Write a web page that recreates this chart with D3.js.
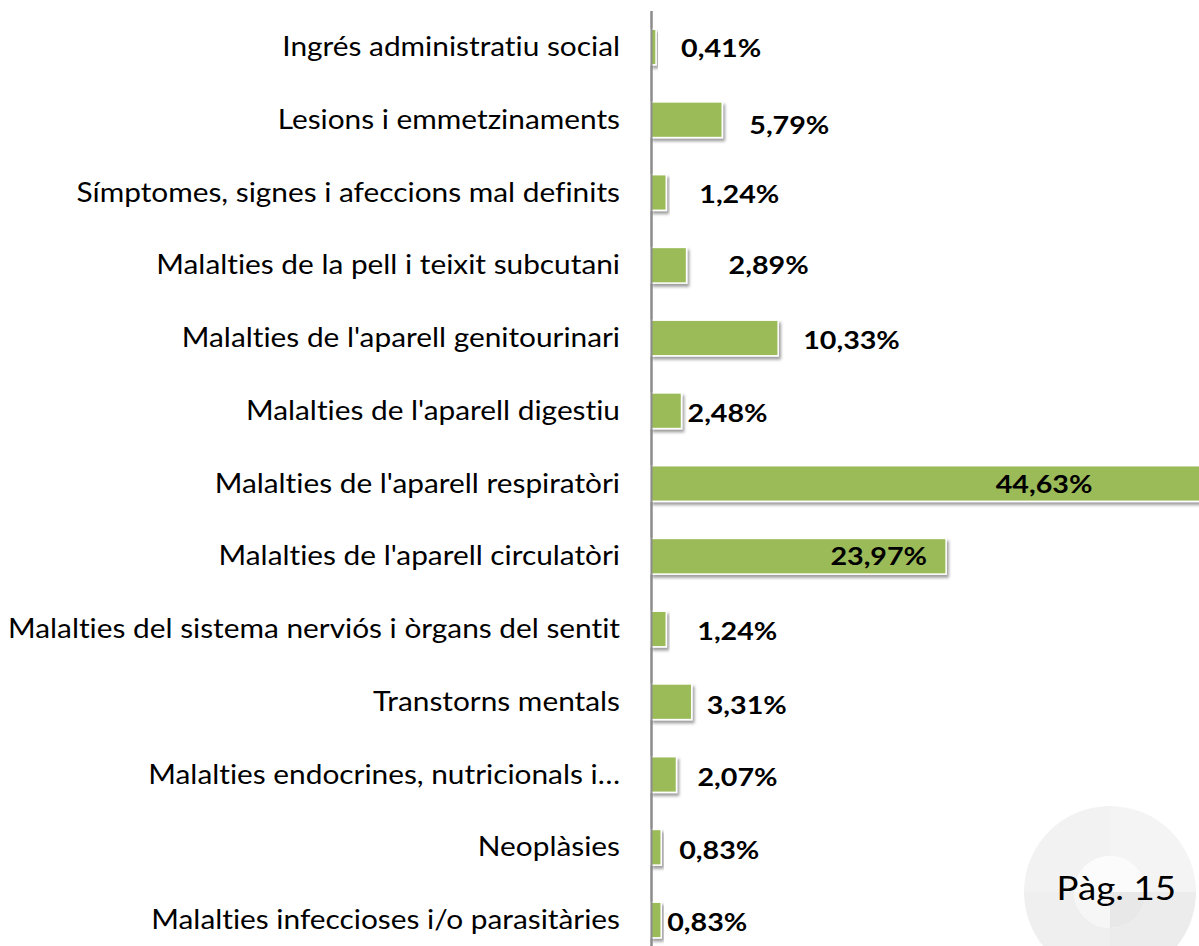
<!DOCTYPE html>
<html>
<head>
<meta charset="utf-8">
<script src="https://cdn.jsdelivr.net/npm/d3@7"></script>
<style>
  html, body { margin: 0; padding: 0; background: #ffffff; }
  svg { display: block; }
  text { font-variant-ligatures: none; }
</style>
</head>
<body>
<svg id="chart" width="1199" height="946"></svg>
<script>
// ==========
// DATA
// ==========

const categories = [
  "Ingrés administratiu social",
  "Lesions i emmetzinaments",
  "Símptomes, signes i afeccions mal definits",
  "Malalties de la pell i teixit subcutani",
  "Malalties de l'aparell genitourinari",
  "Malalties de l'aparell digestiu",
  "Malalties de l'aparell respiratòri",
  "Malalties de l'aparell circulatòri",
  "Malalties del sistema nerviós i òrgans del sentit",
  "Transtorns mentals",
  "Malalties endocrines, nutricionals i…",
  "Neoplàsies",
  "Malalties infeccioses i/o parasitàries"
];

const percentages = [0.41, 5.79, 1.24, 2.89, 10.33, 2.48, 44.63, 23.97, 1.24, 3.31, 2.07, 0.83, 0.83];

const valueLabels = ["0,41%", "5,79%", "1,24%", "2,89%", "10,33%", "2,48%", "44,63%", "23,97%",
                     "1,24%", "3,31%", "2,07%", "0,83%", "0,83%"];

const pageLabel = "Pàg. 15";

// label nudges (px) from the bar end, as placed by hand in the original
const labelNudge = [[25, 1], [27, 5], [33, 2], [42, 0], [25, 2], [6, 2], [-108, 0], [-19, 0],
                    [31, 2], [15, 3], [21, 2], [18, 3], [6, 2]];

// ==========
// SETUP
// ==========

const svg = d3.select("#chart");
const axisX = 651;

const x = d3.scaleLinear()
  .domain([0, 45])
  .range([axisX, 1205]);

const y = d3.scaleBand()
  .domain(categories)
  .range([10.6, 956.4])
  .paddingInner(0.51)
  .paddingOuter(0.255);

// drop shadow for the bars
const defs = svg.append("defs");
const shadow = defs.append("filter")
  .attr("id", "barShadow")
  .attr("x", "-10%").attr("y", "-20%")
  .attr("width", "130%").attr("height", "160%");
shadow.append("feDropShadow")
  .attr("dx", 2).attr("dy", 3)
  .attr("stdDeviation", 1.8)
  .attr("flood-color", "#000")
  .attr("flood-opacity", 0.38);

// ==========
// PAGE BADGE (corner decoration)
// ==========

const badge = svg.append("g").attr("transform", "translate(1110,892)");
const outerArc = d3.arc().innerRadius(36).outerRadius(86);
const innerArc = d3.arc().innerRadius(0).outerRadius(36);
const quads = [
  { a0: 0, a1: Math.PI / 2, outer: "#f4f4f4", inner: "#fbfbfb" },
  { a0: Math.PI / 2, a1: Math.PI, outer: "#ececec", inner: "#e8e8e8" },
  { a0: Math.PI, a1: Math.PI * 1.5, outer: "#efefef", inner: "#f6f6f6" },
  { a0: Math.PI * 1.5, a1: Math.PI * 2, outer: "#f2f2f2", inner: "#fcfcfc" }
];
badge.selectAll("path.outer")
  .data(quads)
  .enter().append("path")
    .attr("class", "outer")
    .attr("d", d => outerArc({ startAngle: d.a0, endAngle: d.a1 }))
    .attr("fill", d => d.outer);
badge.selectAll("path.inner")
  .data(quads)
  .enter().append("path")
    .attr("class", "inner")
    .attr("d", d => innerArc({ startAngle: d.a0, endAngle: d.a1 }))
    .attr("fill", d => d.inner);

// ==========
// AXIS + CATEGORY LABELS
// ==========

const yAxis = svg.append("g")
  .attr("transform", "translate(" + axisX + ",0)")
  .call(d3.axisLeft(y).tickSize(0).tickSizeOuter(0).tickPadding(31));

yAxis.select(".domain")
  .attr("stroke", "#8c8c8c")
  .attr("stroke-width", 2);

yAxis.selectAll(".tick text")
  .attr("font-family", "Lato, 'Open Sans', sans-serif")
  .attr("font-size", 26)
  .attr("fill", "#000")
  .attr("dy", "0.35em");

// horizontal squeeze so the widest label spans the same room as in the original
let widest = 0;
yAxis.selectAll(".tick text").each(function () {
  widest = Math.max(widest, this.getComputedTextLength());
});
const kx = 612 / widest;
yAxis.selectAll(".tick text").each(function () {
  d3.select(this)
    .attr("textLength", this.getComputedTextLength() * kx)
    .attr("lengthAdjust", "spacingAndGlyphs");
});

// ==========
// BARS
// ==========

svg.append("g")
  .selectAll("rect")
  .data(percentages)
  .enter()
  .append("rect")
    .attr("x", x(0))
    .attr("y", (d, i) => y(categories[i]))
    .attr("width", d => x(d) - x(0))
    .attr("height", y.bandwidth())
    .attr("fill", "#9bbb59")
    .attr("stroke", "#ffffff")
    .attr("stroke-width", 1.5)
    .attr("filter", "url(#barShadow)");

// redraw the axis line over the bar edges
svg.node().appendChild(yAxis.select(".domain").node().cloneNode(true))
svg.select("svg > path.domain").attr("transform", "translate(" + axisX + ",0)");

// ==========
// VALUE LABELS
// ==========

const vLabels = svg.append("g")
  .selectAll("text")
  .data(percentages)
  .enter()
  .append("text")
    .attr("x", (d, i) => x(d) + labelNudge[i][0])
    .attr("y", (d, i) => y(categories[i]) + y.bandwidth() / 2 + labelNudge[i][1])
    .attr("dy", "0.36em")
    .attr("text-anchor", (d, i) => labelNudge[i][0] < 0 ? "end" : "start")
    .attr("font-family", "Lato, 'Open Sans', sans-serif")
    .attr("font-weight", "bold")
    .attr("font-size", 25)
    .attr("fill", "#000")
    .text((d, i) => valueLabels[i]);

vLabels.each(function () {
  d3.select(this)
    .attr("textLength", this.getComputedTextLength() * kx)
    .attr("lengthAdjust", "spacingAndGlyphs");
});

// ==========
// PAGE NUMBER
// ==========

const pg = svg.append("text")
  .attr("x", 1176)
  .attr("y", 900)
  .attr("text-anchor", "end")
  .attr("font-family", "Lato, 'Open Sans', sans-serif")
  .attr("font-size", 32)
  .attr("fill", "#000")
  .text(pageLabel);
pg.attr("textLength", pg.node().getComputedTextLength() * kx)
  .attr("lengthAdjust", "spacingAndGlyphs");
</script>
</body>
</html>
